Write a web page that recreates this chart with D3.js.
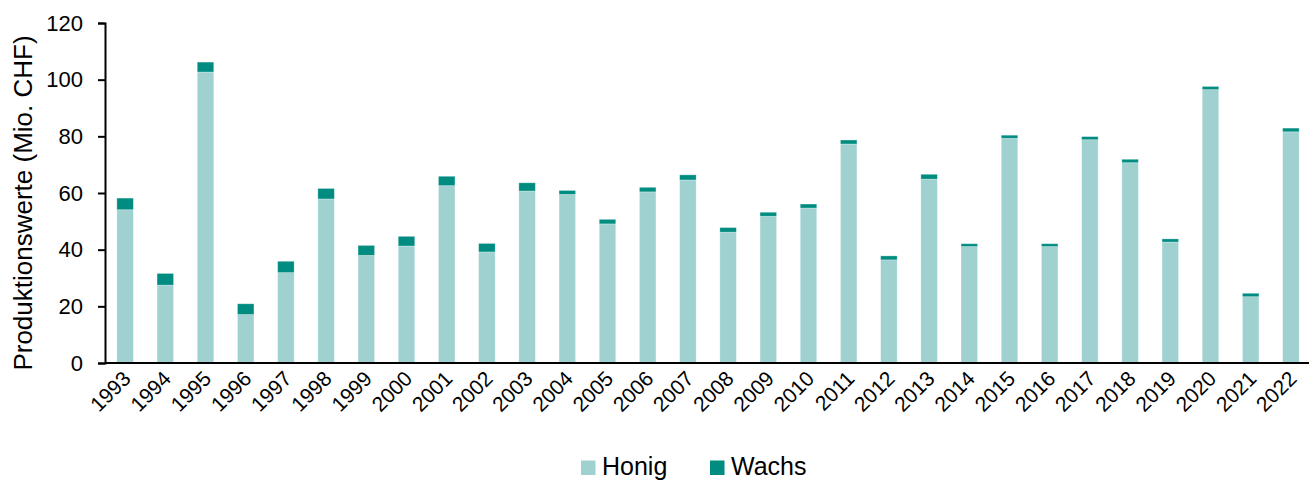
<!DOCTYPE html>
<html><head><meta charset="utf-8">
<script src="https://cdn.jsdelivr.net/npm/d3@7"></script>
<style>body{margin:0;background:#fff}svg{display:block;font-family:Arial,"Liberation Sans",sans-serif}</style>
</head><body><svg id="c" width="1315" height="481"></svg>
<script>
const years = ["1993","1994","1995","1996","1997","1998","1999","2000","2001","2002","2003","2004","2005","2006","2007","2008","2009","2010","2011","2012","2013","2014","2015","2016","2017","2018","2019","2020","2021","2022"];
const honig = [54.1,27.5,102.7,17.1,31.9,57.9,38.0,41.3,62.6,39.2,60.7,59.5,49.1,60.4,64.6,46.2,51.8,54.7,77.3,36.4,64.9,41.1,79.3,41.1,78.8,70.7,42.7,96.5,23.4,81.6];
const wachs = [4.1,4.1,3.5,3.8,4.0,3.7,3.5,3.4,3.3,3.0,2.9,1.4,1.6,1.6,1.8,1.6,1.4,1.4,1.4,1.4,1.7,1.0,1.1,1.0,1.1,1.2,1.1,1.1,1.2,1.3];
const yTicks = [0,20,40,60,80,100,120];
const seriesNames = ["Honig","Wachs"];
const colors = ["#9fd1d1","#008c80"];

const svg = d3.select("#c");
const x = d3.scaleBand().domain(years).range([105,1311]).paddingInner(0.59).paddingOuter(0.295);
const y = d3.scaleLinear().domain([0,120]).range([363,23]);

const rows = years.map((yr,i)=>({year:yr, Honig:honig[i], Wachs:wachs[i]}));
const stack = d3.stack().keys(seriesNames)(rows);

svg.append("g").selectAll("g").data(stack).join("g")
  .attr("fill",(d,i)=>colors[i])
  .selectAll("rect").data(d=>d).join("rect")
  .attr("x",d=>x(d.data.year))
  .attr("width",x.bandwidth())
  .attr("y",d=>y(d[1]))
  .attr("height",d=>y(d[0])-y(d[1]))
  .attr("stroke","#ffffff").attr("stroke-opacity",0.35).attr("stroke-width",0.8);

const ya = svg.append("g").attr("transform","translate(105,0)")
  .call(d3.axisLeft(y).tickValues(yTicks).tickSize(7).tickPadding(15));
ya.selectAll("text").attr("font-size",22).attr("fill","#000").attr("font-family","Arial,'Liberation Sans',sans-serif");
ya.selectAll("line,path").attr("stroke","#000").attr("stroke-width",2);

const xa = svg.append("g").attr("transform","translate(0,363)")
  .call(d3.axisBottom(x).tickSize(0).tickPadding(0));
xa.select("path").attr("stroke","#000").attr("stroke-width",2).attr("d","M105,0H1309");
xa.selectAll("text").attr("font-size",21).attr("fill","#000")
  .attr("font-family","Arial,'Liberation Sans',sans-serif")
  .attr("text-anchor","end").attr("dy",0)
  .attr("transform","translate(7,17) rotate(-45)");

svg.append("text").attr("transform","translate(32,203) rotate(-90)")
  .attr("text-anchor","middle").attr("font-size",26).attr("fill","#000")
  .text("Produktionswerte (Mio. CHF)");

const lg = svg.append("g");
const lx = [581,710];
seriesNames.forEach((n,i)=>{
  lg.append("rect").attr("x",lx[i]).attr("y",460.5).attr("width",14.5).attr("height",14.5).attr("fill",colors[i]);
  lg.append("text").attr("x",lx[i]+21).attr("y",475).attr("font-size",25).attr("fill","#000").text(n);
});
</script></body></html>
